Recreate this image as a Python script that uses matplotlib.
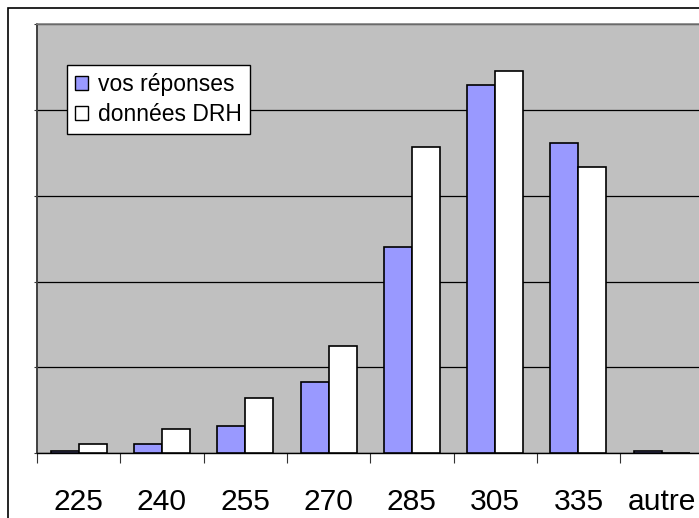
import matplotlib
matplotlib.use("Agg")
import matplotlib.pyplot as plt
from matplotlib.patches import Patch, Rectangle
import numpy as np

categories = ["225", "240", "255", "270", "285", "305", "335", "autre"]
vos_reponses = [0.2, 1.1, 3.1, 8.3, 24.0, 42.9, 36.2, 0.2]
donnees_drh = [1.0, 2.8, 6.4, 12.5, 35.7, 44.6, 33.4, 0.0]
series_labels = ["vos réponses", "données DRH"]

W, H = 699, 518
fig = plt.figure(figsize=(W / 100, H / 100), dpi=100)
fig.patch.set_facecolor("white")
plt.rcParams["font.family"] = ["Liberation Sans", "DejaVu Sans"]

# outer chart frame (runs past the right and bottom edges)
fig.add_artist(Rectangle((8 / W, -0.2), 1.2, 1.2 - 8 / H,
                         transform=fig.transFigure, fill=False,
                         edgecolor="black", linewidth=1.2, zorder=0))

left_px, top_px, bottom_px, right_px = 37, 24.3, 453, 703.4
ax = fig.add_axes([left_px / W, 1 - bottom_px / H,
                   (right_px - left_px) / W, (bottom_px - top_px) / H])
ax.set_facecolor("#C0C0C0")

x = np.arange(len(categories))
bw = 0.336
ax.bar(x - bw / 2, vos_reponses, width=bw, color="#9999FF",
       edgecolor="black", linewidth=1.2, zorder=3, label=series_labels[0])
ax.bar(x + bw / 2, donnees_drh, width=bw, color="white",
       edgecolor="black", linewidth=1.2, zorder=3, label=series_labels[1])

ax.set_xlim(-0.5, len(categories) - 0.5)
ax.set_ylim(0, 50)
ax.set_yticks([0, 10, 20, 30, 40, 50])
ax.set_yticklabels([])
ax.yaxis.grid(True, color="black", linewidth=0.9, zorder=1)
ax.set_axisbelow(True)
ax.tick_params(axis="y", length=2.5, width=0.8, color="#333333")

ax.set_xticks(np.arange(len(categories) + 1) - 0.5)
ax.set_xticklabels([])
ax.set_xticks(x, minor=True)
ax.set_xticklabels(categories, minor=True, fontsize=21.6)
ax.tick_params(axis="x", which="major", length=7.5, width=0.8,
               color="#333333", direction="out")
ax.tick_params(axis="x", which="minor", length=0, pad=25)

ax.spines["right"].set_visible(False)
ax.spines["top"].set_color("#808080")
ax.spines["top"].set_linewidth(1.2)
ax.spines["left"].set_color("#404040")
ax.spines["left"].set_linewidth(1.4)
ax.spines["bottom"].set_color("black")
ax.spines["bottom"].set_linewidth(1.0)

handles = [Patch(facecolor="#9999FF", edgecolor="black", linewidth=1.0),
           Patch(facecolor="white", edgecolor="black", linewidth=1.0)]
leg = ax.legend(handles, series_labels, loc="upper left",
                bbox_to_anchor=(66.7 / W, 1 - 65 / H),
                bbox_transform=fig.transFigure, borderaxespad=0,
                fontsize=16.5, frameon=True, fancybox=False,
                edgecolor="black", framealpha=1, borderpad=0.35,
                handlelength=0.6, handleheight=0.6, handletextpad=0.4,
                labelspacing=0.3)
leg.get_frame().set_linewidth(1.0)
leg.set_zorder(5)

fig.savefig("out.png", dpi=100, facecolor="white")
